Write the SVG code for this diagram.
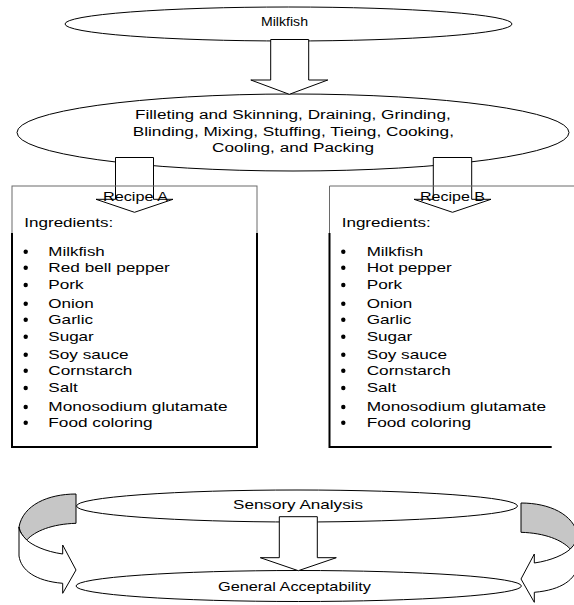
<svg xmlns="http://www.w3.org/2000/svg" width="574" height="605" viewBox="0 0 574 605">
<style>
.bg{fill:#ffffff}
.shape{fill:#ffffff;stroke:#000000;stroke-width:1}
.gray{fill:#c6c6c6;stroke:#000000;stroke-width:1}
.thin{fill:none;stroke:#6a6a6a;stroke-width:1}
.thick{fill:none;stroke:#000000;stroke-width:2}
text{font-family:"Liberation Sans",Arial,Helvetica,sans-serif;fill:#000000}
.t12{font-size:12px}
.t13{font-size:13px}
.bul{fill:#000000}
</style>
<defs>
<g id="curvedArrow">
<path class="gray" d="M76,494 C48,494 23,505 19,527 C20,532 23,537 26.7,540 C35,531 52,524 76,523.3 Z"/>
<path class="shape" d="M19,527 L19,556 C21,570 35,581 62.7,583.3 L62.7,593.3 L76,570 L62.7,545 L62.7,554 C45,551.5 32,545 26.7,540 C22,535 19,531 19,527 Z"/>
</g>
</defs>
<rect class="bg" x="0" y="0" width="574" height="605"/>

<g id="n-milkfish">
<ellipse class="shape" cx="288.5" cy="24" rx="223.5" ry="17"/>
<text class="t13" x="261" y="26" textLength="47" lengthAdjust="spacingAndGlyphs">Milkfish</text>
</g>

<g id="n-process">
<ellipse class="shape" cx="293" cy="132.5" rx="276" ry="38.5"/>
<text class="t12" x="135" y="119" textLength="315.7" lengthAdjust="spacingAndGlyphs">Filleting and Skinning, Draining, Grinding,</text>
<text class="t12" x="132.7" y="135.7" textLength="321.3" lengthAdjust="spacingAndGlyphs">Blinding, Mixing, Stuffing, Tieing, Cooking,</text>
<text class="t12" x="212" y="152.3" textLength="162" lengthAdjust="spacingAndGlyphs">Cooling, and Packing</text>
</g>

<g id="n-sensory">
<ellipse class="shape" cx="297" cy="506" rx="220.5" ry="16"/>
<text class="t13" x="233" y="509" textLength="130" lengthAdjust="spacingAndGlyphs">Sensory Analysis</text>
</g>

<g id="n-general">
<ellipse class="shape" cx="298.7" cy="586" rx="222.7" ry="15.5"/>
<text class="t13" x="218" y="590.5" textLength="153" lengthAdjust="spacingAndGlyphs">General Acceptability</text>
</g>

<g id="connectors">
<polygon class="shape" points="270.7,39.5 308.7,39.5 308.7,80 327.8,80 289.3,94.3 250.8,80 270.7,80"/>
<polygon class="shape" points="115.5,157.5 153.5,157.5 153.5,199.3 173,199.3 134.5,212.3 96,199.3 115.5,199.3"/>
<polygon class="shape" points="433.3,157.5 471.7,157.5 471.7,199.3 491,199.3 452.5,212.3 414,199.3 433.3,199.3"/>
<polygon class="shape" points="279.3,516.7 317.3,516.7 317.3,557.7 336.3,557.7 298.3,570.7 260.3,557.7 279.3,557.7"/>
<use href="#curvedArrow"/>
<use href="#curvedArrow" transform="translate(597,9) scale(-1,1)"/>
</g>

<g id="n-recipeA">
<rect class="thin" x="12" y="186" width="245" height="261"/>
<path class="thick" d="M12,233 V447 H257 V233"/>
<text class="t13" x="103" y="201" textLength="65" lengthAdjust="spacingAndGlyphs">Recipe A</text>
<text class="t13" x="24.3" y="227.3" textLength="89" lengthAdjust="spacingAndGlyphs">Ingredients:</text>
<g class="bul">
<circle cx="25.7" cy="251.7" r="2.2"/>
<circle cx="25.7" cy="267.7" r="2.2"/>
<circle cx="25.7" cy="285" r="2.2"/>
<circle cx="25.7" cy="303.7" r="2.2"/>
<circle cx="25.7" cy="319.7" r="2.2"/>
<circle cx="25.7" cy="336.7" r="2.2"/>
<circle cx="25.7" cy="354.7" r="2.2"/>
<circle cx="25.7" cy="370.7" r="2.2"/>
<circle cx="25.7" cy="388" r="2.2"/>
<circle cx="25.7" cy="407" r="2.2"/>
<circle cx="25.7" cy="422.7" r="2.2"/>
</g>
<text class="t13" x="48.3" y="255.7" textLength="56.5" lengthAdjust="spacingAndGlyphs">Milkfish</text>
<text class="t13" x="48.3" y="271.7" textLength="121.5" lengthAdjust="spacingAndGlyphs">Red bell pepper</text>
<text class="t13" x="48.3" y="289" textLength="35.3" lengthAdjust="spacingAndGlyphs">Pork</text>
<text class="t13" x="48.3" y="307.7" textLength="45.5" lengthAdjust="spacingAndGlyphs">Onion</text>
<text class="t13" x="48.3" y="323.7" textLength="44.7" lengthAdjust="spacingAndGlyphs">Garlic</text>
<text class="t13" x="48.3" y="340.7" textLength="45.5" lengthAdjust="spacingAndGlyphs">Sugar</text>
<text class="t13" x="48.3" y="358.7" textLength="80.3" lengthAdjust="spacingAndGlyphs">Soy sauce</text>
<text class="t13" x="48.3" y="374.7" textLength="84" lengthAdjust="spacingAndGlyphs">Cornstarch</text>
<text class="t13" x="48.3" y="392" textLength="29.5" lengthAdjust="spacingAndGlyphs">Salt</text>
<text class="t13" x="48.3" y="411" textLength="179.3" lengthAdjust="spacingAndGlyphs">Monosodium glutamate</text>
<text class="t13" x="48.3" y="426.7" textLength="104.4" lengthAdjust="spacingAndGlyphs">Food coloring</text>
</g>

<g id="n-recipeB">
<path class="thin" d="M580,186 H329.5 V233"/>
<path class="thick" d="M329.5,233 V447 H551.7"/>
<text class="t13" x="420" y="201" textLength="65" lengthAdjust="spacingAndGlyphs">Recipe B</text>
<text class="t13" x="341.7" y="227.3" textLength="89" lengthAdjust="spacingAndGlyphs">Ingredients:</text>
<g class="bul">
<circle cx="343.3" cy="251.7" r="2.2"/>
<circle cx="343.3" cy="267.7" r="2.2"/>
<circle cx="343.3" cy="285" r="2.2"/>
<circle cx="343.3" cy="303.7" r="2.2"/>
<circle cx="343.3" cy="319.7" r="2.2"/>
<circle cx="343.3" cy="336.7" r="2.2"/>
<circle cx="343.3" cy="354.7" r="2.2"/>
<circle cx="343.3" cy="370.7" r="2.2"/>
<circle cx="343.3" cy="388" r="2.2"/>
<circle cx="343.3" cy="407" r="2.2"/>
<circle cx="343.3" cy="422.7" r="2.2"/>
</g>
<text class="t13" x="366.7" y="255.7" textLength="56.5" lengthAdjust="spacingAndGlyphs">Milkfish</text>
<text class="t13" x="366.7" y="271.7" textLength="85" lengthAdjust="spacingAndGlyphs">Hot pepper</text>
<text class="t13" x="366.7" y="289" textLength="35.3" lengthAdjust="spacingAndGlyphs">Pork</text>
<text class="t13" x="366.7" y="307.7" textLength="45.5" lengthAdjust="spacingAndGlyphs">Onion</text>
<text class="t13" x="366.7" y="323.7" textLength="44.7" lengthAdjust="spacingAndGlyphs">Garlic</text>
<text class="t13" x="366.7" y="340.7" textLength="45.5" lengthAdjust="spacingAndGlyphs">Sugar</text>
<text class="t13" x="366.7" y="358.7" textLength="80.3" lengthAdjust="spacingAndGlyphs">Soy sauce</text>
<text class="t13" x="366.7" y="374.7" textLength="84" lengthAdjust="spacingAndGlyphs">Cornstarch</text>
<text class="t13" x="366.7" y="392" textLength="29.5" lengthAdjust="spacingAndGlyphs">Salt</text>
<text class="t13" x="366.7" y="411" textLength="179.3" lengthAdjust="spacingAndGlyphs">Monosodium glutamate</text>
<text class="t13" x="366.7" y="426.7" textLength="104.4" lengthAdjust="spacingAndGlyphs">Food coloring</text>
</g>
</svg>
